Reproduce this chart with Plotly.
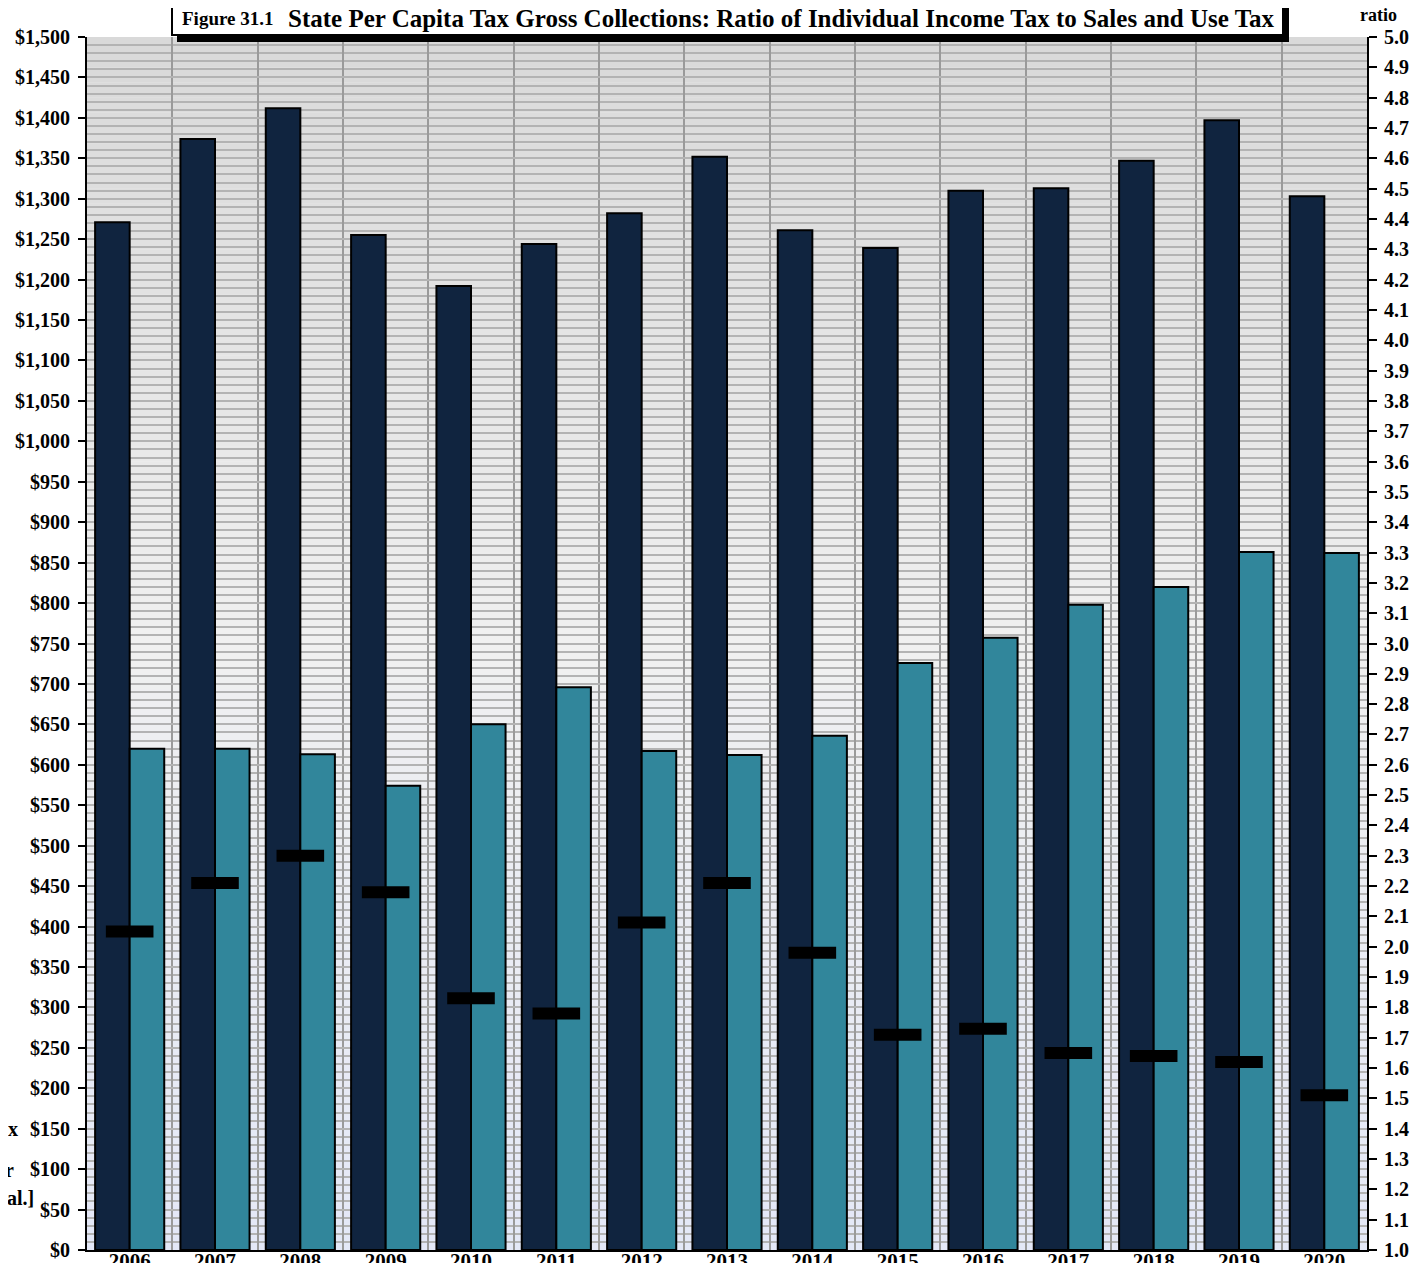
import plotly.graph_objects as go

years = ["2006", "2007", "2008", "2009", "2010", "2011", "2012", "2013",
         "2014", "2015", "2016", "2017", "2018", "2019", "2020"]
income_tax = [1271, 1374, 1412, 1255, 1192, 1244, 1282, 1352, 1261, 1239,
              1310, 1313, 1347, 1397, 1303]
sales_tax = [620, 620, 613, 574, 650, 696, 617, 612, 636, 726,
             757, 798, 820, 863, 862]
ratio = [2.05, 2.21, 2.30, 2.18, 1.83, 1.78, 2.08, 2.21, 1.98, 1.71,
         1.73, 1.65, 1.64, 1.62, 1.51]

# page is rendered with an 8px body margin; compensate
OFF = 8
W, H = 1427 - OFF, 1263 - OFF
L, R, T, B = 87, 1367, 37, 1250  # plot area in page pixels
FONT = "Liberation Serif, Times New Roman, serif"


def px(x):
    return (x - L) / (R - L)


def py(y):
    return (B - y) / (B - T)


fig = go.Figure()
fig.add_trace(go.Bar(x=years, y=income_tax, name="Individual Income Tax",
                     marker=dict(color="#10243f", line=dict(color="black", width=2))))
fig.add_trace(go.Bar(x=years, y=sales_tax, name="Sales and Use Tax",
                     marker=dict(color="#31869b", line=dict(color="black", width=2))))
fig.add_trace(go.Scatter(x=years, y=ratio, yaxis="y2", mode="markers", name="Ratio",
                         marker=dict(symbol="line-ew", size=34, color="black",
                                     line=dict(color="black", width=12))))

# gradient background strips
shapes = []
N = 80
top = (217, 217, 217)
mid = (240, 240, 240)
bot = (228, 232, 247)
for i in range(N):
    f = (i + 0.5) / N  # 0 bottom -> 1 top
    if f >= 0.5:
        t = (f - 0.5) / 0.5
        c = [mid[k] + (top[k] - mid[k]) * t for k in range(3)]
    else:
        t = f / 0.5
        c = [bot[k] + (mid[k] - bot[k]) * t for k in range(3)]
    shapes.append(dict(type="rect", xref="paper", yref="paper", x0=0, x1=1,
                       y0=i / N, y1=(i + 1) / N, layer="below", line=dict(width=0),
                       fillcolor="rgb(%d,%d,%d)" % tuple(int(round(v)) for v in c)))

# title box with shadow
shapes.append(dict(type="rect", xref="paper", yref="paper", x0=px(177), x1=px(1289),
                   y0=py(42), y1=py(6), fillcolor="black", line=dict(width=0), layer="above"))
shapes.append(dict(type="rect", xref="paper", yref="paper", x0=px(172), x1=px(1283),
                   y0=py(35), y1=py(1), fillcolor="white",
                   line=dict(color="black", width=2), layer="above"))

annotations = [
    dict(text="<b>Figure 31.1</b>", xref="paper", yref="paper", x=px(180), y=py(19),
         xanchor="left", yanchor="middle", showarrow=False,
         font=dict(family=FONT, size=19, color="black")),
    dict(text="<b>State Per Capita Tax Gross Collections: Ratio of Individual Income Tax to Sales and Use Tax</b>",
         xref="paper", yref="paper", x=px(286), y=py(18), xanchor="left", yanchor="middle",
         showarrow=False, font=dict(family=FONT, size=25, color="black")),
    dict(text="<b>ratio</b>", xref="paper", yref="paper", x=px(1378), y=py(15),
         xanchor="center", yanchor="middle", showarrow=False,
         font=dict(family=FONT, size=18, color="black")),
    dict(text="<b>x</b>", xref="paper", yref="paper", x=px(20), y=py(1129),
         xanchor="right", yanchor="middle", showarrow=False,
         font=dict(family=FONT, size=20, color="black")),
    dict(text="<b>r</b>", xref="paper", yref="paper", x=px(16), y=py(1170),
         xanchor="right", yanchor="middle", showarrow=False,
         font=dict(family=FONT, size=20, color="black")),
    dict(text="<b>al.]</b>", xref="paper", yref="paper", x=px(36), y=py(1198),
         xanchor="right", yanchor="middle", showarrow=False,
         font=dict(family=FONT, size=20, color="black")),
]

tickfont = dict(family=FONT, size=20, color="black", weight="bold")
grid = "#b3b3b3"

fig.update_layout(
    width=W, height=H,
    margin=dict(l=L - OFF, r=W - (R - OFF), t=T - OFF, b=H - (B - OFF), autoexpand=False),
    paper_bgcolor="white", plot_bgcolor="#eeeeee",
    barmode="group", bargap=0.19, bargroupgap=0,
    showlegend=False,
    shapes=shapes, annotations=annotations,
    xaxis=dict(type="category", tickson="boundaries", ticks="", showgrid=True,
               gridcolor="#9a9a9a", gridwidth=2, showline=True, linecolor="black",
               linewidth=2, tickfont=dict(family=FONT, size=21, color="black", weight="bold"),
               ticklabelstandoff=-9, range=[-0.5, 14.5], automargin=False),
    xaxis2=dict(overlaying="x", range=[-0.5, 14.5], tick0=-0.5, dtick=1, ticks="outside",
                ticklen=15, tickwidth=1.5, tickcolor="black", showticklabels=False,
                showgrid=False, zeroline=False, side="bottom", anchor="y", automargin=False),
    yaxis=dict(range=[0, 1500], dtick=50, tickprefix="$", tickformat=",d",
               ticks="outside", ticklen=7, tickwidth=1.5, tickcolor="black",
               showgrid=True, gridcolor=grid, gridwidth=2, zeroline=False,
               showline=True, linecolor="black", linewidth=2, tickfont=tickfont,
               ticklabelstandoff=4, automargin=False,
               minor=dict(dtick=10, showgrid=True, gridcolor=grid, gridwidth=2)),
    yaxis3=dict(overlaying="y", range=[0, 1500], dtick=50, ticks="inside", ticklen=6,
                tickwidth=1.5, tickcolor="black", showticklabels=False, showgrid=False,
                zeroline=False, side="left", anchor="x", automargin=False),
    yaxis2=dict(overlaying="y", side="right", range=[1, 5], dtick=0.1, tickformat=".1f",
                ticks="outside", ticklen=8, tickwidth=1.5, tickcolor="black",
                showgrid=False, zeroline=False, showline=True, linecolor="black",
                linewidth=2, tickfont=tickfont, ticklabelstandoff=3, anchor="x",
                automargin=False),
    yaxis4=dict(overlaying="y", side="right", range=[1, 5], dtick=0.1, ticks="inside",
                ticklen=7, tickwidth=1.5, tickcolor="black", showticklabels=False,
                showgrid=False, zeroline=False, anchor="x", automargin=False),
)

fig.write_html("out.html")
